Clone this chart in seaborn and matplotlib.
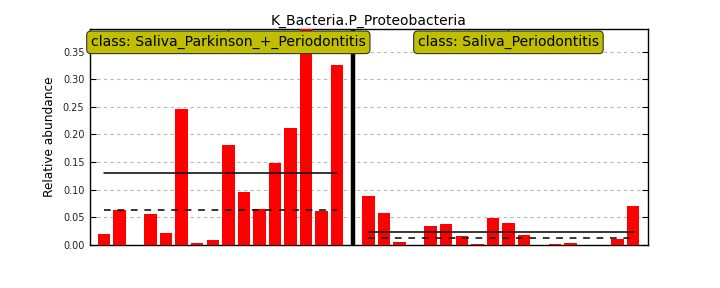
import numpy as np
import pandas as pd
import matplotlib
matplotlib.use("Agg")
import matplotlib.pyplot as plt
import matplotlib.transforms as mtransforms
import seaborn as sns

title = "K_Bacteria.P_Proteobacteria"
class_labels = ["class: Saliva_Parkinson_+_Periodontitis", "class: Saliva_Periodontitis"]
group1 = [0.0199, 0.0632, 0.0, 0.0560, 0.0217, 0.2457, 0.0036, 0.0090,
          0.1807, 0.0958, 0.0650, 0.1480, 0.2114, 0.5660, 0.0614, 0.3253]
group2 = [0.0885, 0.0578, 0.0054, 0.0, 0.0343, 0.0380, 0.0163, 0.0018,
          0.0488, 0.0398, 0.0181, 0.0, 0.0020, 0.0036, 0.0, 0.0, 0.0108, 0.0704]
yticks = [0.00, 0.05, 0.10, 0.15, 0.20, 0.25, 0.30, 0.35]
ymax = 0.39

sns.set_style("white")
plt.rcParams['font.family'] = ['DejaVu Sans']

n1, n2 = len(group1), len(group2)
x1 = list(range(n1))
sep = n1
x2 = list(range(n1 + 1, n1 + 1 + n2))
df = pd.DataFrame({"pos": x1 + x2, "val": group1 + group2})

fig = plt.figure(figsize=(7.2, 2.88), dpi=100)
ax = fig.add_axes([0.125, 0.149, 0.775, 0.749])

sns.barplot(data=df, x="pos", y="val", native_scale=True, color="#ff0000",
            saturation=1, width=0.8, ax=ax, linewidth=0, zorder=3)

ax.set_xlim(-0.89, 34.97)
ax.set_ylim(0, ymax)
ax.set_yticks(yticks)
ax.set_yticklabels([f"{t:.2f}" for t in yticks])
ax.yaxis.grid(True, color="#b8b8b8", linestyle=(0, (3, 3)), linewidth=0.8, zorder=0)
ax.set_axisbelow(True)

# separator
ax.axvline(sep, color="black", linewidth=3.2, zorder=4)

# mean / median lines
for xs, vals in [(x1, group1), (x2, group2)]:
    m = np.mean(vals)
    md = np.median(vals)
    ax.plot([xs[0], xs[-1]], [m, m], color="black", linewidth=1.1, zorder=5)
    ax.plot([xs[0], xs[-1]], [md, md], color="black", linewidth=1.1,
            dashes=(4.4, 4.4), zorder=5)

# class ticks
centers = [np.mean(x1) + 0.5, np.mean(x2) + 0.5]
ax.set_xticks(centers)
ax.set_xticklabels([])
ax.tick_params(axis="both", direction="in", length=4, width=0.8, color="black",
               top=True, right=True, left=True, bottom=True)
ax.tick_params(axis="y", labelsize=7, pad=4, labelcolor="#222222")

trans = mtransforms.blended_transform_factory(ax.transData, ax.transAxes)
for c, lab in zip(centers, class_labels):
    ax.text(c, 0.94, lab, transform=trans, ha="center", va="center", fontsize=10.1,
            zorder=10, color="black",
            bbox=dict(boxstyle="round,pad=0.3", facecolor=(0.75, 0.75, 0.0),
                      edgecolor="#333333", linewidth=0.8))

for s in ax.spines.values():
    s.set_color("black")
    s.set_linewidth(1.0)
    s.set_visible(True)

ax.set_xlabel("")
ax.set_ylabel("Relative abundance", fontsize=8.7, labelpad=5, color="black")
ax.set_title(title, fontsize=10, pad=3, color="black")

fig.savefig("out.png", dpi=100)
